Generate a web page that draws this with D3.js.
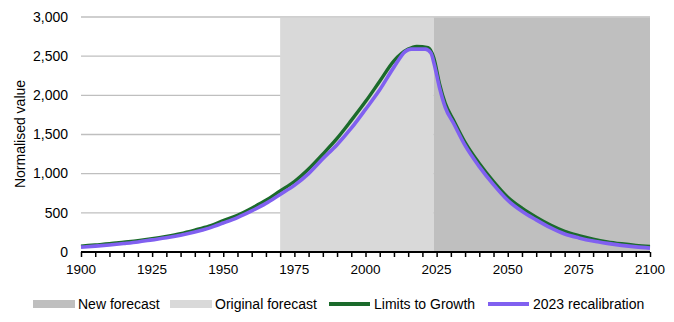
<!DOCTYPE html>
<html><head><meta charset="utf-8">
<script src="https://cdn.jsdelivr.net/npm/d3@7"></script>
<style>body{margin:0;background:#fff}svg{display:block}text{font-family:"Liberation Sans",Arial,sans-serif;fill:#000}</style>
</head><body><svg id="c" width="674" height="322"></svg>
<script>
const ltgYears = [1900,1905,1910,1915,1920,1925,1930,1935,1940,1945,1950,1955,1960,1965,1970,1975,1980,1985,1990,1995,2000,2005,2010,2015,2018,2022,2024,2026,2028,2031,2035,2040,2045,2050,2055,2060,2065,2070,2075,2080,2085,2090,2095,2100];
const ltgValues = [75,90,105,125,145,170,200,235,280,330,400,470,560,660,780,900,1060,1250,1450,1680,1920,2180,2440,2590,2625,2610,2480,2150,1900,1680,1400,1130,900,700,560,445,345,265,210,165,130,105,85,70];
const recalYears = [1900,1905,1910,1915,1920,1925,1930,1935,1940,1945,1950,1955,1960,1965,1970,1975,1980,1985,1990,1995,2000,2005,2010,2014,2016,2021,2023,2024,2026,2028,2031,2035,2040,2045,2050,2055,2060,2065,2070,2075,2080,2085,2090,2095,2100];
const recalValues = [62,75,90,108,128,155,182,215,255,305,370,440,525,620,735,850,1000,1190,1370,1580,1820,2070,2360,2560,2590,2590,2540,2420,2100,1850,1640,1360,1090,860,660,520,410,310,230,180,140,110,85,65,50];
const originalForecast = [1970, 2024];
const newForecast = [2024, 2100];
const yTicks = [0,500,1000,1500,2000,2500,3000];
const xTicks = [1900,1925,1950,1975,2000,2025,2050,2075,2100];
const legendLabels = ["New forecast","Original forecast","Limits to Growth","2023 recalibration"];

const svg = d3.select("#c");
const x = d3.scaleLinear().domain([1900,2100]).range([81,650]);
const y = d3.scaleLinear().domain([0,3000]).range([252,17]);

svg.append("g").selectAll("line").data(yTicks.filter(d=>d>0)).join("line")
  .attr("x1",x(1900)).attr("x2",x(2100)).attr("y1",d=>y(d)).attr("y2",d=>y(d))
  .attr("stroke","#bfbfbf").attr("stroke-width",1.3);

svg.append("rect").attr("x",x(originalForecast[0])).attr("y",y(3000)+0.7)
  .attr("width",x(originalForecast[1])-x(originalForecast[0])).attr("height",y(0)-y(3000)-0.7).attr("fill","#d9d9d9");
svg.append("rect").attr("x",x(newForecast[0])).attr("y",y(3000)+0.7)
  .attr("width",x(newForecast[1])-x(newForecast[0])).attr("height",y(0)-y(3000)-0.7).attr("fill","#bfbfbf");

svg.append("g").selectAll("text").data(yTicks).join("text")
  .attr("x",68).attr("y",d=>y(d)+4.8).attr("text-anchor","end").attr("font-size",14).text(d=>d3.format(",")(d));

svg.append("text").attr("transform","translate(24.5,134) rotate(-90)").attr("text-anchor","middle")
  .attr("font-size",14).text("Normalised value");

const line = d3.line().x(d=>x(d[0])).y(d=>y(d[1])).curve(d3.curveMonotoneX);
svg.append("path").datum(ltgYears.map((d,i)=>[d,ltgValues[i]])).attr("d",line)
  .attr("fill","none").attr("stroke","#1b6b2b").attr("stroke-width",3.4).attr("stroke-linejoin","round");
svg.append("path").datum(recalYears.map((d,i)=>[d,recalValues[i]])).attr("d",line)
  .attr("fill","none").attr("stroke","#8060f0").attr("stroke-width",3.6).attr("stroke-linejoin","round");

const xa = svg.append("g").attr("transform","translate(0,252)")
  .call(d3.axisBottom(x).tickValues(d3.range(1900,2101,5)).tickSize(5).tickFormat(""));
xa.select(".domain").attr("stroke","#000").attr("stroke-width",1.8).attr("d","M81,0H650");
xa.selectAll(".tick line").attr("stroke","#000").attr("stroke-width",1.5);
svg.append("g").selectAll("text").data(xTicks).join("text")
  .attr("x",d=>x(d)).attr("y",274).attr("text-anchor","middle").attr("font-size",13.5).text(d=>d);

const lg = svg.append("g");
const items = [
  {type:"rect",color:"#bfbfbf",x:33,tx:78},
  {type:"rect",color:"#d9d9d9",x:170,tx:215},
  {type:"line",color:"#1b6b2b",x:329,tx:374},
  {type:"line",color:"#8060f0",x:488,tx:533}
];
items.forEach((it,i)=>{
  if(it.type==="rect") lg.append("rect").attr("x",it.x).attr("y",300).attr("width",42).attr("height",8).attr("fill",it.color);
  else lg.append("line").attr("x1",it.x).attr("x2",it.x+41).attr("y1",304).attr("y2",304).attr("stroke",it.color).attr("stroke-width",4);
  lg.append("text").attr("x",it.tx).attr("y",308.5).attr("font-size",14).text(legendLabels[i]);
});
</script></body></html>
